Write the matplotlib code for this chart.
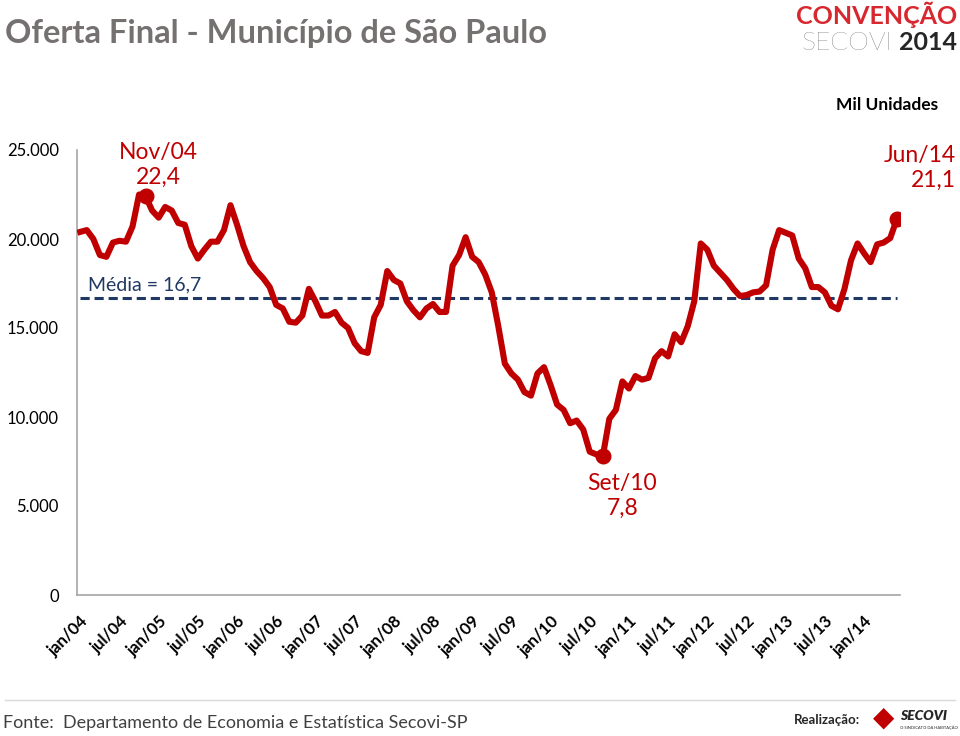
import matplotlib
matplotlib.use("Agg")
import matplotlib.pyplot as plt
import numpy as np

plt.rcParams["font.family"] = ["Lato", "DejaVu Sans"]

# Oferta final (mil unidades), jan/04 .. jun/14
oferta = [
    20.4, 20.5, 20.0, 19.1, 19.0, 19.8, 19.9, 19.85, 20.7, 22.5, 22.4, 21.6,   # 2004
    21.2, 21.8, 21.6, 20.9, 20.8, 19.6, 18.9, 19.4, 19.85, 19.85, 20.5, 21.9,  # 2005
    20.8, 19.6, 18.7, 18.2, 17.8, 17.3, 16.3, 16.1, 15.35, 15.3, 15.7, 17.2,   # 2006
    16.5, 15.7, 15.7, 15.9, 15.3, 15.0, 14.15, 13.7, 13.6, 15.6, 16.3, 18.2,   # 2007
    17.7, 17.5, 16.5, 16.0, 15.6, 16.1, 16.35, 15.9, 15.9, 18.5, 19.1, 20.1,   # 2008
    19.0, 18.7, 18.0, 17.0, 15.1, 13.0, 12.45, 12.1, 11.4, 11.2, 12.45, 12.8,  # 2009
    11.8, 10.7, 10.4, 9.65, 9.8, 9.3, 8.05, 7.9, 7.8, 9.9, 10.4, 12.0,         # 2010
    11.6, 12.3, 12.1, 12.2, 13.3, 13.7, 13.4, 14.65, 14.2, 15.1, 16.5, 19.75,  # 2011
    19.4, 18.5, 18.1, 17.7, 17.2, 16.8, 16.85, 17.0, 17.05, 17.4, 19.4, 20.5,  # 2012
    20.35, 20.2, 18.9, 18.35, 17.3, 17.3, 17.0, 16.25, 16.05, 17.2, 18.8, 19.75,  # 2013
    19.2, 18.7, 19.7, 19.8, 20.05, 21.1,                                        # 2014
]
media = 16.7
destaques = [10, 80, 125]

meses = ["jan", "fev", "mar", "abr", "mai", "jun", "jul", "ago", "set", "out", "nov", "dez"]
labels = [f"{meses[i % 12]}/{4 + i // 12:02d}" for i in range(len(oferta))]
y = np.array(oferta) * 1000
x = np.arange(len(y))

RED = "#C00000"
NAVY = "#1F3864"

fig = plt.figure(figsize=(9.6, 7.36), dpi=100)
ax = fig.add_axes([77 / 960, 1 - 595 / 736, 823 / 960, 445 / 736])

ax.plot(x, y, color=RED, lw=4.4, solid_joinstyle="round", zorder=3)
ax.plot([x[0], x[-1]], [media * 1000] * 2, color=NAVY, lw=2.2, ls=(0, (3, 1.6)), zorder=2)
for i in destaques:
    ax.plot(x[i], y[i], "o", color=RED, ms=10.5, zorder=4)

ax.set_xlim(-0.5, len(y) - 0.5)
ax.set_ylim(0, 25000)
ax.set_yticks(range(0, 25001, 5000))
ax.set_yticklabels(["0"] + [f"{v // 1000}.000" for v in range(5000, 25001, 5000)], fontsize=12)
ticks = x[::6]
ax.set_xticks(ticks)
ax.set_xticklabels([labels[i] for i in ticks], rotation=45, ha="right", va="top",
                   rotation_mode="anchor", fontsize=12, fontweight="bold")
ax.tick_params(length=0, pad=13)
ax.tick_params(axis="y", pad=13)
for s in ["top", "right"]:
    ax.spines[s].set_visible(False)
for s in ["left", "bottom"]:
    ax.spines[s].set_color("#A6A6A6")
    ax.spines[s].set_linewidth(1.2)

# annotations
ax.text(x[10] + 2, 24150, "Nov/04\n22,4", color=RED, fontsize=16.5, ha="center",
        va="center", linespacing=1.25, clip_on=False)
ax.text(x[80] + 3, 5550, "Set/10\n7,8", color=RED, fontsize=16.5, ha="center",
        va="center", linespacing=1.25)
ax.text(x[125] + 9, 24000, "Jun/14\n21,1", color=RED, fontsize=16.5, ha="right",
        va="center", linespacing=1.25, multialignment="right", clip_on=False)
ax.text(1.2, media * 1000 + 250, "Média = 16,7", color=NAVY, fontsize=14, ha="left", va="bottom")
fig.text(938 / 960, 1 - 105 / 736, "Mil Unidades", fontsize=12.5, fontweight="bold",
         ha="right", va="center")

# header
fig.text(5 / 960, 1 - 33 / 736, "Oferta Final - Município de São Paulo", fontsize=23.5,
         fontweight="bold", color="#767171", ha="left", va="center")
fig.text(957 / 960, 1 - 15 / 736, "CONVENÇÃO", fontsize=18, fontweight="bold", color="#D7282F",
         ha="right", va="center")
fig.text(893 / 960, 1 - 43 / 736, "SECOVI", fontsize=19, fontweight="light", color="#404040",
         ha="right", va="center")
fig.text(957 / 960, 1 - 43 / 736, "2014", fontsize=18, fontweight="bold", color="#262626",
         ha="right", va="center")

# footer
fig.add_artist(plt.Line2D([5 / 960, 955 / 960], [1 - 700 / 736] * 2, color="#D9D9D9", lw=1))
fig.text(3 / 960, 1 - 723 / 736, "Fonte:  Departamento de Economia e Estatística Secovi-SP",
         fontsize=13, color="#404040", ha="left", va="center")
fig.text(860 / 960, 1 - 720 / 736, "Realização:", fontsize=9.5, fontweight="bold",
         color="#262626", ha="right", va="center")
fig.text(884 / 960, 1 - 718 / 736, "\u25C6", fontsize=20, color="#C00000", ha="center", va="center")
fig.text(900 / 960, 1 - 716 / 736, "SECOVI", fontsize=10, fontweight="heavy", style="italic",
         color="#262626", ha="left", va="center")
fig.text(900 / 960, 1 - 728 / 736, "O SINDICATO DA HABITAÇÃO", fontsize=3, color="#262626",
         ha="left", va="center")

fig.savefig("out.png", dpi=100)
